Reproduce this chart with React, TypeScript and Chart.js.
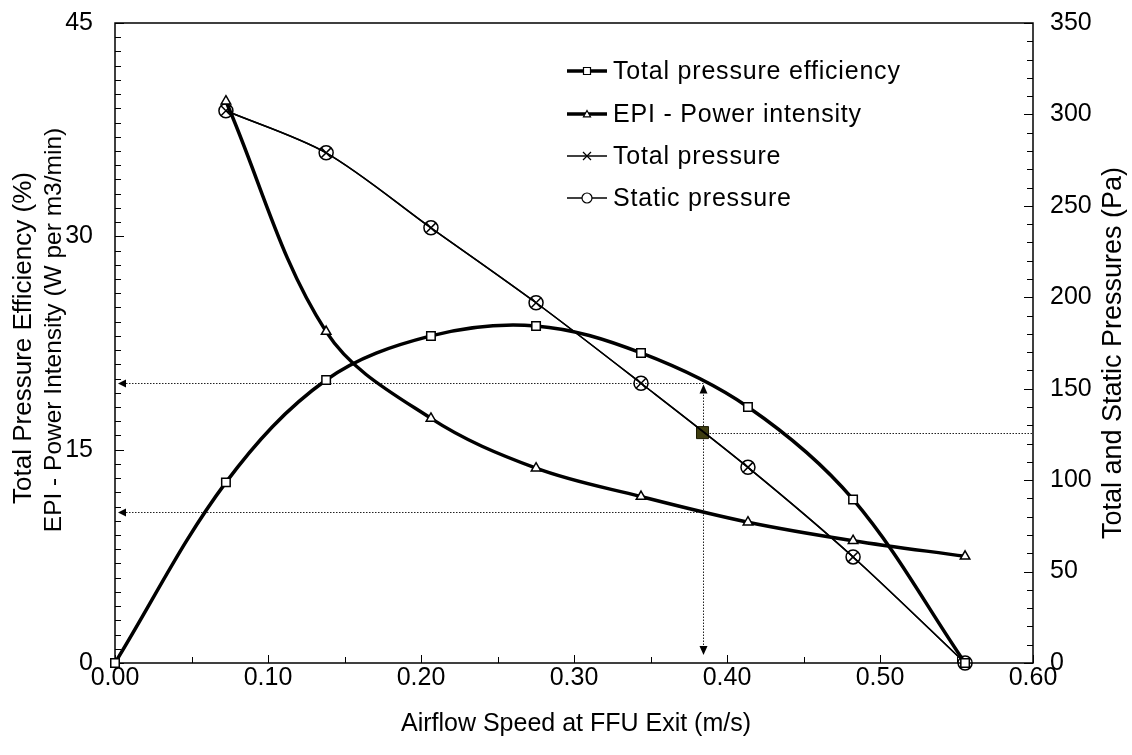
import React, { useEffect, useRef } from 'react';
import { Chart, registerables } from 'chart.js';

Chart.register(...registerables);

// ---- data ----
const airflowEff = [0, 0.0725, 0.138, 0.2065, 0.2752, 0.3438, 0.4137, 0.4824, 0.5556];
const efficiency = [0, 12.7, 19.9, 23.0, 23.7, 21.8, 18.0, 11.5, 0];
const airflow = [0.0725, 0.138, 0.2065, 0.2752, 0.3438, 0.4137, 0.4824, 0.5556];
const epi = [39.5, 23.3, 17.2, 13.7, 11.7, 9.9, 8.6, 7.5];
const totalPressure = [302, 279, 238, 197, 153, 107, 58, 0];
const staticPressure = [302, 279, 238, 197, 153, 107, 58, 0];

// operating point annotation
const opAirflow = 0.384;
const opEfficiency = 19.7;
const opEpi = 10.6;
const opPressure = 126;

// axis ticks
const xMajor = [0, 0.1, 0.2, 0.3, 0.4, 0.5, 0.6];
const xMinor = [0.05, 0.15, 0.25, 0.35, 0.45, 0.55];
const leftMajor = [0, 15, 30, 45];
const leftMinorStep = 1;
const rightMajor = [0, 50, 100, 150, 200, 250, 300, 350];
const rightMinorStep = 10;

// titles
const xTitle = 'Airflow Speed at FFU Exit (m/s)';
const leftTitle = ['Total Pressure Efficiency (%)', 'EPI - Power Intensity (W per m3/min)'];
const rightTitle = 'Total and Static Pressures (Pa)';

const FONT = "'Liberation Sans', Arial, sans-serif";

const pts = (xs: number[], ys: number[]) => xs.map((x, i) => ({ x, y: ys[i] }));

function drawMarker(ctx: CanvasRenderingContext2D, style: string, x: number, y: number, r: number) {
  ctx.beginPath();
  if (style === 'rect') {
    ctx.rect(x - r, y - r, 2 * r, 2 * r);
    ctx.fillStyle = '#fff';
    ctx.fill();
    ctx.stroke();
  } else if (style === 'triangle') {
    ctx.moveTo(x, y - r);
    ctx.lineTo(x + r, y + r * 0.8);
    ctx.lineTo(x - r, y + r * 0.8);
    ctx.closePath();
    ctx.fillStyle = '#fff';
    ctx.fill();
    ctx.stroke();
  } else if (style === 'crossRot') {
    ctx.moveTo(x - r, y - r);
    ctx.lineTo(x + r, y + r);
    ctx.moveTo(x + r, y - r);
    ctx.lineTo(x - r, y + r);
    ctx.stroke();
  } else if (style === 'circle') {
    ctx.arc(x, y, r, 0, Math.PI * 2);
    ctx.fillStyle = '#fff';
    ctx.fill();
    ctx.stroke();
  }
}

function titleText(ctx: any, text: string, x: number, y: number, rot: number, size: number) {
  ctx.save();
  ctx.translate(x, y);
  ctx.rotate(rot);
  ctx.font = `${size}px ${FONT}`;
  ctx.fillStyle = '#000';
  ctx.textAlign = 'center';
  ctx.textBaseline = 'middle';
  ctx.fillText(text, 0, 0);
  ctx.restore();
}

const framePlugin = {
  id: 'frameTicks',
  beforeDatasetsDraw(chart: any) {
    const { ctx, chartArea: a, scales } = chart;
    const xs = scales.x, yl = scales.y, yr = scales.y1;
    ctx.save();
    ctx.strokeStyle = '#000';
    ctx.lineWidth = 1.5;
    ctx.strokeRect(a.left, a.top, a.right - a.left, a.bottom - a.top);
    ctx.lineWidth = 1;
    ctx.beginPath();
    xMajor.forEach((v) => {
      const p = Math.round(xs.getPixelForValue(v)) + 0.5;
      ctx.moveTo(p, a.bottom);
      ctx.lineTo(p, a.bottom - 8);
    });
    xMinor.forEach((v) => {
      const p = Math.round(xs.getPixelForValue(v)) + 0.5;
      ctx.moveTo(p, a.bottom);
      ctx.lineTo(p, a.bottom - 6);
    });
    for (let v = 0; v <= 45; v += leftMinorStep) {
      const p = Math.round(yl.getPixelForValue(v)) + 0.5;
      const len = leftMajor.includes(v) ? 9 : 6;
      ctx.moveTo(a.left, p);
      ctx.lineTo(a.left + len, p);
    }
    for (let v = 0; v <= 350; v += rightMinorStep) {
      const p = Math.round(yr.getPixelForValue(v)) + 0.5;
      const len = rightMajor.includes(v) ? 9 : 6;
      ctx.moveTo(a.right, p);
      ctx.lineTo(a.right - len, p);
    }
    ctx.stroke();

    // dotted annotation lines
    const px = xs.getPixelForValue(opAirflow);
    const pyEff = Math.round(yl.getPixelForValue(opEfficiency)) + 0.5;
    const pyEpi = Math.round(yl.getPixelForValue(opEpi)) + 0.5;
    const pyP = Math.round(yr.getPixelForValue(opPressure)) + 0.5;
    const pxr = Math.round(px) + 0.5;
    ctx.strokeStyle = '#222';
    ctx.lineWidth = 1;
    ctx.setLineDash([1.5, 1.5]);
    ctx.beginPath();
    ctx.moveTo(pxr, pyEff);
    ctx.lineTo(a.left + 6, pyEff);
    ctx.moveTo(pxr, pyEpi);
    ctx.lineTo(a.left + 6, pyEpi);
    ctx.moveTo(pxr, pyEff + 2);
    ctx.lineTo(pxr, a.bottom - 8);
    ctx.moveTo(pxr, pyP);
    ctx.lineTo(a.right, pyP);
    ctx.stroke();
    ctx.setLineDash([]);
    ctx.fillStyle = '#000';
    const arrowL = (y: number) => {
      ctx.beginPath();
      ctx.moveTo(a.left + 3, y);
      ctx.lineTo(a.left + 11, y - 4);
      ctx.lineTo(a.left + 11, y + 4);
      ctx.closePath();
      ctx.fill();
    };
    arrowL(pyEff);
    arrowL(pyEpi);
    ctx.beginPath();
    ctx.moveTo(pxr, pyEff + 1);
    ctx.lineTo(pxr + 4, pyEff + 10);
    ctx.lineTo(pxr - 4, pyEff + 10);
    ctx.closePath();
    ctx.fill();
    ctx.beginPath();
    ctx.moveTo(pxr, a.bottom - 8);
    ctx.lineTo(pxr + 4, a.bottom - 17);
    ctx.lineTo(pxr - 4, a.bottom - 17);
    ctx.closePath();
    ctx.fill();
    ctx.restore();
  },
  afterDraw(chart: any) {
    const { ctx, chartArea: a } = chart;
    const cx = (a.left + a.right) / 2;
    titleText(ctx, xTitle, cx + 2, 724, 0, 25);
    titleText(ctx, leftTitle[0], 24, 338, -Math.PI / 2, 26);
    titleText(ctx, leftTitle[1], 54, 330, -Math.PI / 2, 24.5);
    titleText(ctx, rightTitle, 1114, 353, -Math.PI / 2, 27);
  },
};

const legendPlugin = {
  id: 'customLegend',
  afterDatasetsDraw(chart: any) {
    const { ctx } = chart;
    const items = chart.data.datasets.filter((d: any) => d.inLegend);
    const rowY = [71, 114, 156, 198];
    ctx.save();
    ctx.font = `25px ${FONT}`;
    ctx.textBaseline = 'middle';
    if ('letterSpacing' in ctx) (ctx as any).letterSpacing = '0.8px';
    items.forEach((d: any, i: number) => {
      const y = rowY[i];
      ctx.strokeStyle = '#000';
      ctx.lineWidth = d.borderWidth;
      ctx.beginPath();
      ctx.moveTo(567, y);
      ctx.lineTo(607, y);
      ctx.stroke();
      ctx.lineWidth = 1.2;
      drawMarker(ctx, d.pointStyle, 587, y, d.legendMarker);
      ctx.fillStyle = '#000';
      ctx.fillText(d.label, 613, y + 1);
    });
    ctx.restore();
  },
};

const noPad = (s: any) => {
  s.paddingTop = 0;
  s.paddingBottom = 0;
  s.paddingLeft = 0;
  s.paddingRight = 0;
};

export default function App() {
  const ref = useRef<HTMLCanvasElement>(null);
  useEffect(() => {
    const tickFont = { family: FONT, size: 25 };
    const noGrid = { display: false, drawTicks: false, tickLength: 0 };
    const chart = new Chart(ref.current!, {
      type: 'line',
      data: {
        datasets: [
          {
            label: 'Total pressure efficiency',
            data: pts(airflowEff, efficiency),
            yAxisID: 'y',
            borderColor: '#000',
            borderWidth: 3.5,
            tension: 0.35,
            pointStyle: 'rect',
            pointRadius: 6,
            pointBackgroundColor: '#fff',
            pointBorderColor: '#000',
            pointBorderWidth: 1.5,
            clip: false,
            inLegend: true,
            legendMarker: 3.5,
          } as any,
          {
            label: 'EPI - Power intensity',
            data: pts(airflow, epi),
            yAxisID: 'y',
            borderColor: '#000',
            borderWidth: 3.5,
            tension: 0.35,
            pointStyle: 'triangle',
            pointRadius: 5.5,
            pointBackgroundColor: '#fff',
            pointBorderColor: '#000',
            pointBorderWidth: 1.5,
            clip: false,
            inLegend: true,
            legendMarker: 3.5,
          } as any,
          {
            label: 'Total pressure',
            data: pts(airflow, totalPressure),
            yAxisID: 'y1',
            borderColor: '#000',
            borderWidth: 1.5,
            tension: 0.3,
            pointStyle: 'crossRot',
            pointRadius: 7,
            pointBorderColor: '#000',
            pointBorderWidth: 1.5,
            clip: false,
            inLegend: true,
            legendMarker: 4,
          } as any,
          {
            label: 'Static pressure',
            data: pts(airflow, staticPressure),
            yAxisID: 'y1',
            borderColor: '#000',
            borderWidth: 1.5,
            tension: 0.3,
            pointStyle: 'circle',
            pointRadius: 7,
            pointBackgroundColor: 'rgba(0,0,0,0)',
            pointBorderColor: '#000',
            pointBorderWidth: 1.5,
            clip: false,
            inLegend: true,
            legendMarker: 5,
          } as any,
          {
            label: 'Operating point',
            data: [{ x: opAirflow, y: opPressure }],
            yAxisID: 'y1',
            showLine: false,
            pointStyle: 'rect',
            pointRadius: 8.5,
            pointBackgroundColor: '#3e3d10',
            pointBorderColor: '#1a1a00',
            pointBorderWidth: 1,
            clip: false,
          } as any,
          {
            label: 'Operating point centre',
            data: [{ x: opAirflow, y: opPressure }],
            yAxisID: 'y1',
            showLine: false,
            pointStyle: 'circle',
            pointRadius: 5.5,
            pointBackgroundColor: '#2c2b06',
            pointBorderColor: '#1a1a00',
            pointBorderWidth: 1,
            clip: false,
          } as any,
        ],
      },
      options: {
        responsive: false,
        animation: false,
        layout: { padding: { top: 23, left: 0, right: 0, bottom: 0 } },
        plugins: { legend: { display: false }, tooltip: { enabled: false } },
        scales: {
          x: {
            type: 'linear',
            min: 0,
            max: 0.6,
            afterFit: (s: any) => { s.height = 92; noPad(s); },
            grid: noGrid,
            border: { display: false },
            ticks: {
              stepSize: 0.1,
              autoSkip: false,
              maxRotation: 0,
              padding: 0,
              color: '#000',
              font: tickFont,
              callback: (v: any) => Number(v).toFixed(2),
            },
          },
          y: {
            type: 'linear',
            position: 'left',
            min: 0,
            max: 45,
            afterFit: (s: any) => { s.width = 115; noPad(s); },
            grid: noGrid,
            border: { display: false },
            ticks: { stepSize: 15, padding: 22, color: '#000', font: tickFont },
          },
          y1: {
            type: 'linear',
            position: 'right',
            min: 0,
            max: 350,
            afterFit: (s: any) => { s.width = 99; noPad(s); },
            grid: noGrid,
            border: { display: false },
            ticks: { stepSize: 50, padding: 17, color: '#000', font: tickFont },
          },
        },
      } as any,
      plugins: [framePlugin, legendPlugin],
    });
    return () => chart.destroy();
  }, []);
  return (
    <div style={{ position: 'absolute', left: 0, top: 0, width: 1132, height: 755, background: '#fff' }}>
      <canvas ref={ref} width={1132} height={755} style={{ display: 'block', width: 1132, height: 755 }} />
    </div>
  );
}
